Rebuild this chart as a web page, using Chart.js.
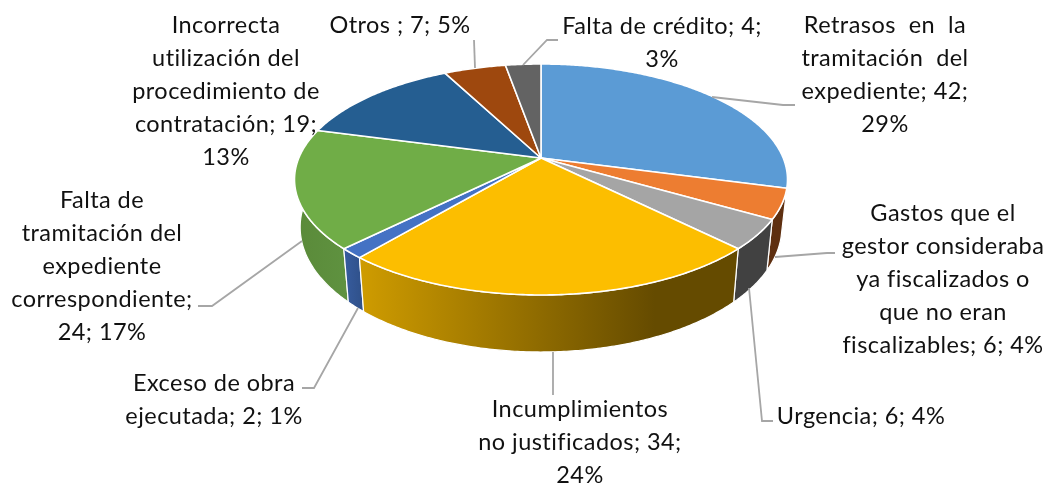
<!DOCTYPE html>
<html>
<head>
<meta charset="utf-8">
<style>
  html, body { margin: 0; padding: 0; background: #fff; }
  canvas { display: block; }
</style>
<script src="https://cdn.jsdelivr.net/npm/chart.js@4"></script>
</head>
<body>
<canvas id="chart" width="1048" height="483"></canvas>
<script>
const categories = [
  'Retrasos en la tramitación del expediente',
  'Gastos que el gestor consideraba ya fiscalizados o que no eran fiscalizables',
  'Urgencia',
  'Incumplimientos no justificados',
  'Exceso de obra ejecutada',
  'Falta de tramitación del expediente correspondiente',
  'Incorrecta utilización del procedimiento de contratación',
  'Otros',
  'Falta de crédito'
];
const values = [42, 6, 6, 34, 2, 24, 19, 7, 4];
const topColors = ['#5B9BD5', '#ED7D31', '#A5A5A5', '#FCBE00', '#4472C4', '#70AD47', '#255E91', '#9E480E', '#636363'];
const wallColors = [
  ['#3A6A96', '#3A6A96'], ['#5E2F10', '#5E2F10'], ['#414141', '#414141'],
  ['#CF9C00', '#654B00'], ['#375C9F', '#2F5088'], ['#5A8A39', '#5F9240'],
  ['#1A4268', '#1A4268'], ['#6A3009', '#6A3009'], ['#444444', '#444444']
];

// label text, broken the way the picture breaks it: [centre x, baseline of first line, lines]
const labels = [
  [885, 33, ['Retrasos  en  la', 'tramitación  del', 'expediente; 42;', '29%']],
  [943, 221, ['Gastos que el', 'gestor consideraba', 'ya fiscalizados o', 'que no eran', 'fiscalizables; 6; 4%']],
  [861, 424, ['Urgencia; 6; 4%']],
  [580, 417, ['Incumplimientos', 'no justificados; 34;', '24%']],
  [214, 391, ['Exceso de obra', 'ejecutada; 2; 1%']],
  [102, 208, ['Falta de', 'tramitación del', 'expediente', 'correspondiente;', '24; 17%']],
  [226, 33, ['Incorrecta', 'utilización del', 'procedimiento de', 'contratación; 19;', '13%']],
  [400, 33, ['Otros ; 7; 5%']],
  [662, 34, ['Falta de crédito; 4;', '3%']]
];
const leaders = [
  [[712, 97], [783, 105], [795, 105]],
  [[775, 257], [827, 253], [835, 253]],
  [[749, 288], [762, 421], [773, 421]],
  [[553, 352], [553, 395]],
  [[358, 308], [314, 388], [302, 388]],
  [[302, 241], [212, 306], [198, 306]],
  [[474, 40], [475, 68]],
  [[523, 65], [547, 40], [558, 40]]
];

// perspective of the top face: the apex is not at the middle of the ellipse
const apexX = 541, apexY = 158, spanX = 242.2, spanY = 111.5, tilt = 0.186;
function topPoint(angle) {
  const u = Math.cos(angle), v = Math.sin(angle), w = 1 - tilt * v;
  return [apexX + spanX * u / w, apexY + spanY * v / w];
}
function bottomPoint(angle) {
  const p = topPoint(angle);
  return [apexX + (p[0] - apexX) * 0.977, p[1] * 1.08 + 33.4];
}
function arcPoints(fn, a0, a1) {
  const n = Math.max(2, Math.ceil(Math.abs(a1 - a0) / 0.01));
  const pts = [];
  for (let i = 0; i <= n; i++) pts.push(fn(a0 + (a1 - a0) * i / n));
  return pts;
}
function trace(ctx, pts) {
  pts.forEach(p => ctx.lineTo(p[0], p[1]));
}

const pie3d = {
  id: 'pie3d',
  beforeDatasetDraw(chart) {
    const ctx = chart.ctx;
    const arcs = chart.getDatasetMeta(0).data.map((el, i) => ({ i, a0: el.startAngle, a1: el.endAngle }));

    // walls, back to front
    arcs.slice().sort((a, b) => Math.sin((a.a0 + a.a1) / 2) - Math.sin((b.a0 + b.a1) / 2)).forEach(s => {
      const top = arcPoints(topPoint, s.a0, s.a1);
      const bottom = arcPoints(bottomPoint, s.a1, s.a0);
      const xs = top.concat(bottom).map(p => p[0]);
      const g = ctx.createLinearGradient(Math.min(...xs), 0, Math.max(...xs), 0);
      g.addColorStop(0, wallColors[s.i][0]);
      if (s.i === 3) g.addColorStop(0.78, wallColors[s.i][1]);
      g.addColorStop(1, wallColors[s.i][1]);
      ctx.beginPath();
      trace(ctx, top);
      trace(ctx, bottom);
      ctx.closePath();
      ctx.fillStyle = g;
      ctx.fill();
      ctx.strokeStyle = '#fff';
      ctx.lineWidth = 1.2;
      ctx.stroke();
    });

    // top face
    arcs.forEach(s => {
      ctx.beginPath();
      ctx.moveTo(apexX, apexY);
      trace(ctx, arcPoints(topPoint, s.a0, s.a1));
      ctx.closePath();
      ctx.fillStyle = topColors[s.i];
      ctx.fill();
      ctx.strokeStyle = '#fff';
      ctx.lineWidth = 1.6;
      ctx.lineJoin = 'round';
      ctx.stroke();
    });
    return false;
  },
  afterDraw(chart) {
    const ctx = chart.ctx;
    ctx.strokeStyle = '#A6A6A6';
    ctx.lineWidth = 1.8;
    ctx.lineJoin = 'miter';
    leaders.forEach(l => {
      ctx.beginPath();
      trace(ctx, l);
      ctx.stroke();
    });
    ctx.fillStyle = '#111';
    ctx.font = '23.5px Lato, "Open Sans", sans-serif';
    ctx.letterSpacing = '0.45px';
    ctx.textAlign = 'center';
    ctx.textBaseline = 'alphabetic';
    labels.forEach(([x, y, lines]) => {
      lines.forEach((t, k) => ctx.fillText(t, x, y + k * 33));
    });
  }
};

new Chart(document.getElementById('chart'), {
  type: 'pie',
  data: {
    labels: categories,
    datasets: [{ data: values, backgroundColor: topColors, borderColor: '#fff' }]
  },
  options: {
    responsive: false,
    animation: false,
    plugins: { legend: { display: false }, tooltip: { enabled: false } }
  },
  plugins: [pie3d]
});
</script>
</body>
</html>
